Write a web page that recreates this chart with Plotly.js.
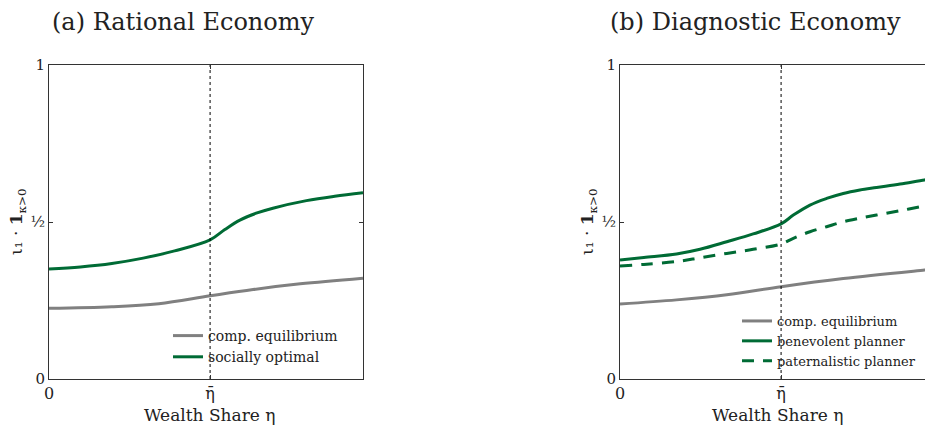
<!DOCTYPE html>
<html>
<head>
<meta charset="utf-8">
<script src="https://cdn.plot.ly/plotly-3.0.1.min.js"></script>
<style>
html,body{margin:0;padding:0;overflow:hidden;background:#fff;}
#chart{width:935px;height:429px;}
</style>
</head>
<body>
<div id="chart"></div>
<script>
// ---- data ----
const ETA_BAR = 0.513;
const xTickVals = [0, ETA_BAR];
const xTickText = ['0', 'η\u0304'];
const yTickVals = [0, 0.5, 1];
const yTickText = ['0', '½', '1'];

// (a) Rational Economy
const ratX_eq = [0, 0.2, 0.35, 0.513, 0.65, 0.8, 1.0];
const ratY_eq = [0.225, 0.230, 0.240, 0.265, 0.285, 0.303, 0.321];
const ratX_opt = [0, 0.1, 0.2, 0.3, 0.4, 0.513, 0.56, 0.608, 0.66, 0.713, 0.82, 0.91, 1.0];
const ratY_opt = [0.350, 0.357, 0.368, 0.385, 0.408, 0.443, 0.476, 0.506, 0.528, 0.544, 0.568, 0.582, 0.593];

// (b) Diagnostic Economy
const diaX_eq = [0, 0.18, 0.34, 0.513, 0.711, 0.97, 1.0];
const diaY_eq = [0.239, 0.252, 0.268, 0.294, 0.320, 0.347, 0.350];
const diaX_ben = [0, 0.076, 0.18, 0.255, 0.34, 0.424, 0.513, 0.552, 0.605, 0.658, 0.711, 0.764, 0.817, 0.892, 0.97, 1.0];
const diaY_ben = [0.379, 0.387, 0.398, 0.413, 0.437, 0.462, 0.494, 0.522, 0.554, 0.575, 0.591, 0.602, 0.610, 0.621, 0.634, 0.638];
const diaX_pat = [0, 0.076, 0.18, 0.255, 0.34, 0.424, 0.513, 0.552, 0.605, 0.658, 0.711, 0.764, 0.817, 0.892, 0.97, 1.0];
const diaY_pat = [0.360, 0.365, 0.374, 0.386, 0.400, 0.413, 0.430, 0.448, 0.469, 0.485, 0.501, 0.512, 0.522, 0.536, 0.551, 0.556];

const names = ['comp. equilibrium', 'socially optimal', 'benevolent planner', 'paternalistic planner'];
const titles = ['(a) Rational Economy', '(b) Diagnostic Economy'];
const xTitle = 'Wealth Share η';
const yTitle = 'ι₁ · <b>1</b><sub>κ&gt;0</sub>';

// ---- styling ----
const W = 935, H = 429, T = 65, B = 50, PH = H - T - B;
const GREEN = '#006b35', GRAY = '#808080', AX = '#333333';
const FONT = 'DejaVu Serif';
const px = x => x / W;
const py = y => (H - B - y) / PH;

const traces = [
  {x: ratX_eq, y: ratY_eq, name: names[0], xaxis: 'x', yaxis: 'y', mode: 'lines',
   line: {color: GRAY, width: 3, shape: 'spline', smoothing: 1}, legend: 'legend'},
  {x: ratX_opt, y: ratY_opt, name: names[1], xaxis: 'x', yaxis: 'y', mode: 'lines',
   line: {color: GREEN, width: 3, shape: 'spline', smoothing: 1}, legend: 'legend'},
  {x: [ETA_BAR, ETA_BAR], y: [0, 1], xaxis: 'x', yaxis: 'y', mode: 'lines', showlegend: false,
   line: {color: '#000', width: 1, dash: 'dot'}, hoverinfo: 'skip'},
  {x: diaX_eq, y: diaY_eq, name: names[0], xaxis: 'x2', yaxis: 'y2', mode: 'lines',
   line: {color: GRAY, width: 3, shape: 'spline', smoothing: 1}, legend: 'legend2'},
  {x: diaX_ben, y: diaY_ben, name: names[2], xaxis: 'x2', yaxis: 'y2', mode: 'lines',
   line: {color: GREEN, width: 3, shape: 'spline', smoothing: 1}, legend: 'legend2'},
  {x: diaX_pat, y: diaY_pat, name: names[3], xaxis: 'x2', yaxis: 'y2', mode: 'lines',
   line: {color: GREEN, width: 3, dash: '12px,9px', shape: 'spline', smoothing: 1}, legend: 'legend2'},
  {x: [ETA_BAR, ETA_BAR], y: [0, 1], xaxis: 'x2', yaxis: 'y2', mode: 'lines', showlegend: false,
   line: {color: '#000', width: 1, dash: 'dot'}, hoverinfo: 'skip'}
];

const xax = dom => ({
  domain: dom, range: [0, 1], tickvals: xTickVals, ticktext: xTickText,
  ticks: 'inside', ticklen: 4, tickcolor: AX, showline: true, linecolor: AX, linewidth: 1,
  mirror: 'ticks', showgrid: false, zeroline: false, fixedrange: true,
  tickfont: {family: FONT, size: 16, color: '#222'}
});
const yax = anchor => ({
  domain: [0, 1], range: [0, 1], tickvals: yTickVals, ticktext: yTickText, anchor: anchor,
  ticks: 'inside', ticklen: 4, tickcolor: AX, showline: true, linecolor: AX, linewidth: 1,
  mirror: 'ticks', showgrid: false, zeroline: false, fixedrange: true,
  tickfont: {family: FONT, size: 15, color: '#222'}
});

const ann = (x, y, text, size, extra) => Object.assign({
  xref: 'paper', yref: 'paper', x: px(x), y: py(y), text: text, showarrow: false,
  xanchor: 'center', yanchor: 'middle', font: {family: FONT, size: size, color: '#222'}
}, extra || {});

const layout = {
  width: W, height: H,
  margin: {l: 0, r: 0, t: T, b: B, pad: 0},
  paper_bgcolor: '#fff', plot_bgcolor: '#fff',
  font: {family: FONT, color: '#222'},
  xaxis: xax([px(49), px(363)]),
  yaxis: yax('x'),
  xaxis2: xax([px(620), px(934)]),
  yaxis2: yax('x2'),
  showlegend: true,
  legend: {x: px(168), y: py(320), xanchor: 'left', yanchor: 'top', bgcolor: 'rgba(0,0,0,0)',
    font: {family: FONT, size: 14, color: '#222'}, tracegroupgap: 0},
  legend2: {x: px(737), y: py(306), xanchor: 'left', yanchor: 'top', bgcolor: 'rgba(0,0,0,0)',
    font: {family: FONT, size: 13, color: '#222'}, tracegroupgap: 0},
  annotations: [
    ann(183, 22, titles[0], 24),
    ann(755, 22, titles[1], 24),
    ann(209, 415, xTitle, 17),
    ann(777, 415, xTitle, 17),
    ann(17, 222, yTitle, 17, {textangle: -90}),
    ann(588, 222, yTitle, 17, {textangle: -90})
  ]
};

Plotly.newPlot('chart', traces, layout, {displayModeBar: false, staticPlot: true});
</script>
</body>
</html>
